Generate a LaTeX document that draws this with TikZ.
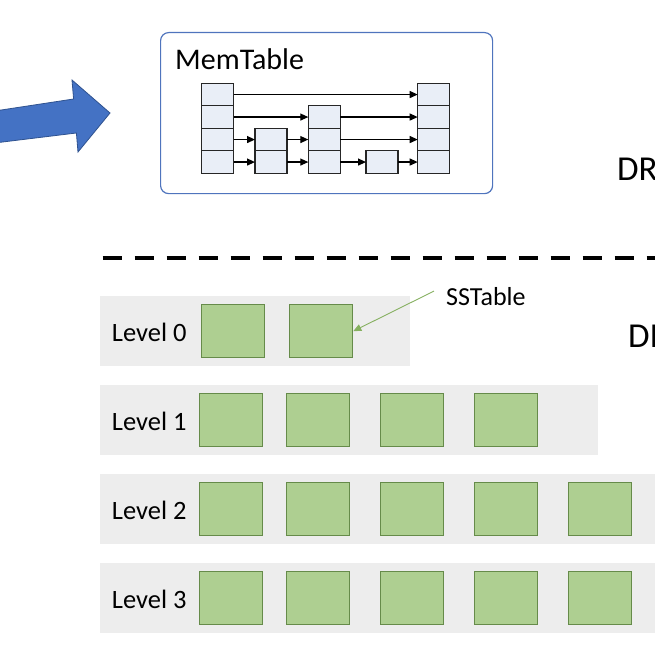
\documentclass[tikz,border=0pt]{standalone}
\usepackage{fontspec}
\setmainfont{Carlito}
\usetikzlibrary{arrows.meta}

\definecolor{flowblue}{HTML}{4472C4}
\definecolor{flowedge}{HTML}{2F528F}
\definecolor{boxblue}{HTML}{4F74BD}
\definecolor{cellfill}{HTML}{E9EEF7}
\definecolor{bandgray}{HTML}{EDEDED}
\definecolor{sstfill}{HTML}{AECF91}
\definecolor{sstedge}{HTML}{668B4A}
\definecolor{pointgreen}{HTML}{86B060}

\begin{document}
\begin{tikzpicture}[x=1pt,y=-1pt,
  cell/.style={draw=black!85,fill=cellfill,line width=1.1pt,minimum width=32pt,
    minimum height=22.5pt,inner sep=0,outer sep=0,anchor=north west},
  ptr/.style={-{Triangle[length=8pt,width=7pt]},line width=1.2pt},
  band/.style={fill=bandgray,inner sep=0,anchor=north west,minimum height=70pt},
  sst/.style={draw=sstedge,fill=sstfill,line width=1.3pt,minimum width=63pt,
    minimum height=53pt,inner sep=0,anchor=north west},
  lvl/.style={anchor=base west,inner sep=0,font=\fontsize{26.5}{28}\selectfont}]
  \useasboundingbox (0,0) rectangle (655,655);

  % write path into the memtable
  \filldraw[fill=flowblue,draw=flowedge,line width=0.8pt]
    (-4,110.8) -- (73.6,99) -- (72,80) -- (110,113) -- (78,152) -- (76.4,133) -- (-4,142.8) -- cycle;

  \node[draw=boxblue,rounded corners=8pt,line width=1.2pt,minimum width=332pt,
    minimum height=161pt,anchor=north west] (memtable) at (160,32) {};
  \node[anchor=base west,inner sep=0,font=\fontsize{30}{31}\selectfont] (memlabel) at (175,70) {MemTable};

  % skip list
  \foreach \r in {1,...,4} {
    \node[cell] (c1r\r) at (201.7,{83.3+22.5*(\r-1)}) {};
    \node[cell] (c5r\r) at (417.7,{83.3+22.5*(\r-1)}) {};
  }
  \foreach \r in {3,4}
    \node[cell] (c2r\r) at (255,{83.3+22.5*(\r-1)}) {};
  \foreach \r in {2,3,4}
    \node[cell] (c3r\r) at (308.3,{83.3+22.5*(\r-1)}) {};
  \node[cell] (c4r4) at (366,150.8) {};

  \foreach \a/\b in {c1r1/c5r1, c1r2/c3r2, c3r2/c5r2,
                     c1r3/c2r3, c2r3/c3r3, c3r3/c5r3,
                     c1r4/c2r4, c2r4/c3r4, c3r4/c4r4, c4r4/c5r4}
    \draw[ptr] (\a) -- (\b);

  \node[anchor=base west,inner sep=0,font=\fontsize{35}{36}\selectfont] (dram) at (617,180) {DRAM};

  \draw[line width=4pt,dash pattern=on 19pt off 13pt] (102.7,257.5) -- (665,257.5);

  \node[anchor=base west,inner sep=0,font=\fontsize{35}{36}\selectfont] (disk) at (628,347) {DISK};

  % levels on disk
  \node[band,minimum width=310pt] (band0) at (99.5,296) {};
  \node[band,minimum width=498.5pt] (band1) at (99.5,385) {};
  \node[band,minimum width=565pt] (band2) at (99.5,474) {};
  \node[band,minimum width=565pt] (band3) at (99.5,563) {};

  \foreach \l in {0,...,3}
    \node[lvl] (lvl\l) at (111.7,{341+89*\l}) {Level \l};

  \foreach \x [count=\i] in {201,289}
    \node[sst] (sst0\i) at (\x,304) {};
  \foreach \x [count=\i] in {198.5,286,380,474}
    \node[sst] (sst1\i) at (\x,393) {};
  \foreach \l in {2,3}
    \foreach \x [count=\i] in {198.5,286,380,474,568}
      \node[sst] (sst\l\i) at (\x,{304+89*\l}) {};

  \node[anchor=base west,inner sep=0,font=\fontsize{26}{28}\selectfont] (sstlabel) at (446,305) {SSTable};
  \draw[pointgreen,line width=0.9pt,-{Triangle[length=8pt,width=7pt]}]
    ([xshift=-12pt,yshift=5pt]sstlabel.west) -- (sst02.east);
\end{tikzpicture}
\end{document}
